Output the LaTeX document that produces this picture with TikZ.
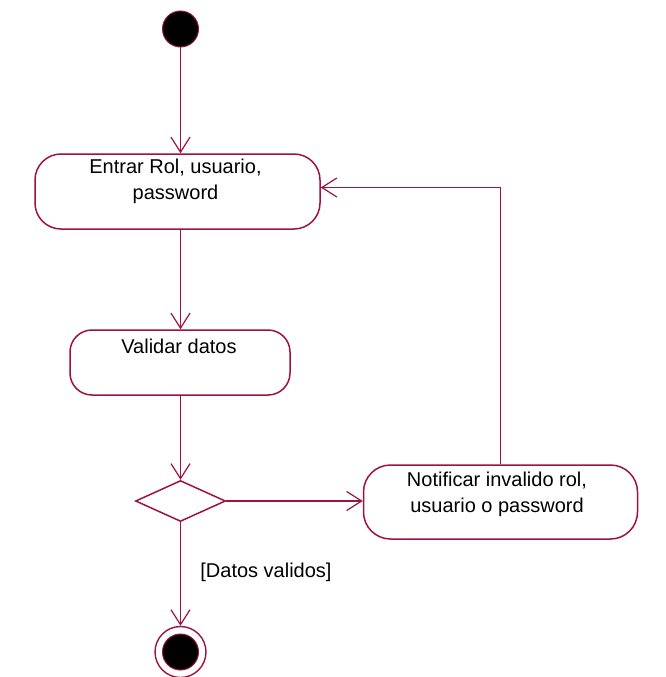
\documentclass[tikz,border=0pt]{standalone}
\usepackage{fontspec}
\setmainfont{Liberation Sans}
\usetikzlibrary{arrows.meta,shapes.geometric}
\definecolor{uml}{RGB}{158,18,64}
\tikzset{
  flow/.style={draw=uml, line width=1.8pt, -{Straight Barb[length=15pt,width=19pt,line width=1.2pt]}},
  activity/.style={draw=uml, line width=1.5pt, fill=white, rectangle, inner sep=0pt},
  caption/.style={font=\fontsize{20}{26.5}\selectfont, align=center, text=black, inner sep=0pt},
  decision/.style={draw=uml, line width=1.5pt, diamond, aspect=2.2, inner sep=0pt,
    minimum width=90pt, minimum height=41pt},
}
\begin{document}
\begin{tikzpicture}[x=1pt, y=-1pt]
  \useasboundingbox (0,0) rectangle (665,677);
  \fill[white] (0,0) rectangle (665,677);

  % initial state
  \node[circle, fill=black, draw=uml, line width=1pt, minimum size=36pt, inner sep=0pt] (start) at (180.5,29) {};

  % activities
  \node[activity, rounded corners=26pt, minimum width=285pt, minimum height=75pt] (entrar) at (177.5,191.5) {};
  \node[caption] (entrarTxt) at (175.5,181.5) {Entrar Rol, usuario,\\password};

  \node[activity, rounded corners=22pt, minimum width=220pt, minimum height=65pt] (validar) at (180,362.5) {};
  \node[caption] (validarTxt) at (179,346) {Validar datos};

  \node[decision] (dec) at (180.5,501) {};

  \node[activity, rounded corners=27pt, minimum width=274pt, minimum height=74pt] (notif) at (500.5,502) {};
  \node[caption] (notifTxt) at (497,494.5) {Notificar invalido rol,\\usuario o password};

  % final state
  \node[circle, draw=uml, line width=1.4pt, minimum size=51pt, inner sep=0pt] (final) at (180.5,652) {};
  \node[circle, fill=black, draw=uml, line width=1pt, minimum size=36pt, inner sep=0pt] (finalCore) at (final.center) {};

  % transitions
  \draw[flow] (start.south) -- (start.south |- entrar.north);
  \draw[flow] (entrar.south -| start) -- (start |- validar.north);
  \draw[flow] (validar.south -| start) -- (dec.north);
  \draw[flow] (dec.east) -- (dec.east -| notif.west);
  \draw[flow] (notif.north) |- (entrar.east |- 0,187.5);
  \draw[flow] (dec.south) -- node[caption, anchor=west, xshift=19pt, yshift=2pt] (guard) {[Datos validos]} (final.north);
\end{tikzpicture}
\end{document}
